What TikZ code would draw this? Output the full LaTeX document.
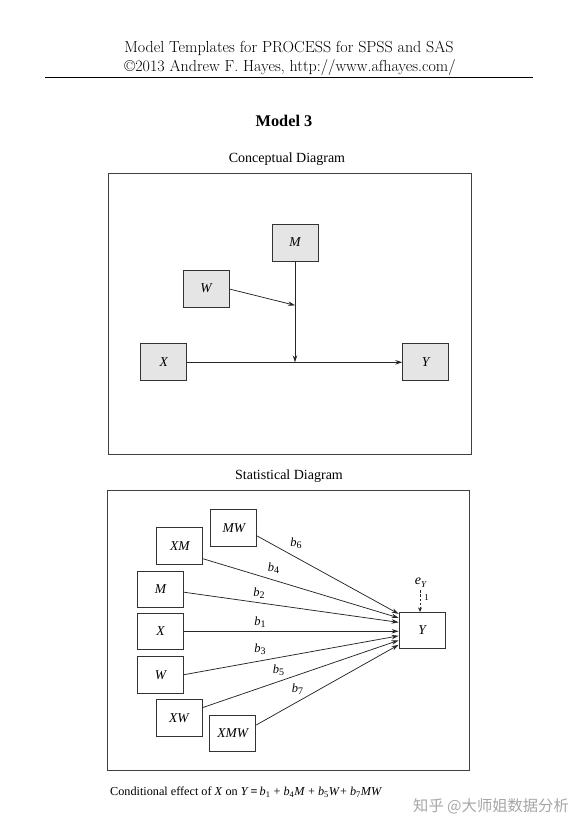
\documentclass[tikz,border=0pt]{standalone}
\usepackage{fontspec}
\usetikzlibrary{arrows.meta,calc}
\newfontfamily\tms{Liberation Serif}
\newfontfamily\cjk{Noto Sans CJK SC}
\begin{document}
\begin{tikzpicture}[x=1pt,y=-1pt,
  cbox/.style={draw=black!80,line width=0.8pt,fill=black!10,minimum width=46pt,minimum height=37pt,inner sep=0pt,font=\tms\itshape\fontsize{13.5}{15}\selectfont},
  sbox/.style={draw=black!80,line width=0.8pt,fill=white,minimum width=46pt,minimum height=36.5pt,inner sep=0pt,font=\tms\itshape\fontsize{13.5}{15}\selectfont},
  frame/.style={draw=black!75,line width=0.8pt},
  arr/.style={draw=black!85,line width=0.75pt,-{Stealth[length=7pt,width=4.5pt]}},
  blab/.style={font=\tms\fontsize{12.5}{14}\selectfont,inner sep=0pt},
  ttl/.style={font=\tms\fontsize{14}{16}\selectfont,inner sep=0pt}]
\useasboundingbox (0,0) rectangle (575,832);
% header
\node[font=\fontsize{16}{18}\selectfont,inner sep=0pt] (h1) at (289,48) {Model Templates for PROCESS for SPSS and SAS};
\node[font=\fontsize{16}{18}\selectfont,inner sep=0pt] (h2) at (290,68) {\textcopyright 2013 Andrew F. Hayes, http://www.afhayes.com/};
\coordinate (r1) at (45,77);
\coordinate (r2) at (533,77);
\draw[line width=0.8pt] (r1) -- (r2);
\node[font=\tms\bfseries\fontsize{16.3}{18}\selectfont,inner sep=0pt] (title) at (284,121) {Model 3};
% conceptual
\node[ttl] (ct) at (287,159) {Conceptual Diagram};
\draw[frame] (108,173) rectangle (471,454);
\node[cbox] (cM) at (295,242.5) {M};
\node[cbox] (cW) at (206,288.5) {W};
\node[cbox] (cX) at (163.7,362.3) {X};
\node[cbox] (cY) at (425.7,362.3) {Y};
\coordinate (cJ) at (cM.south |- cX.east);
\coordinate (cK) at ($(cM.south)!0.435!(cJ)$);
\draw[arr] (cX.east) -- (cY.west);
\draw[arr] (cM.south) -- (cJ);
\draw[arr] (cW.east) ++(0,0.5) -- (cK);
% statistical
\node[ttl] (st) at (289,476) {Statistical Diagram};
\draw[frame] (107.3,490) rectangle (469.3,770.7);
\node[sbox] (sMW) at (233.8,528) {MW};
\node[sbox] (sXM) at (179.8,545.8) {XM};
\node[sbox] (sM) at (160.5,589.2) {M};
\node[sbox] (sX) at (160.5,631.3) {X};
\node[sbox] (sW) at (160.5,674.7) {W};
\node[sbox] (sXW) at (178.9,717.7) {XW};
\node[sbox] (sXMW) at (232.8,733.5) {XMW};
\node[sbox] (sY) at (422,630.5) {Y};
\draw[arr] (sMW.east) ++(0,8) -- ($(sY.north west)+(0,2)$);
\draw[arr] (sXM.east) ++(0,13) -- ($(sY.north west)+(0,6)$);
\draw[arr] (sM.east) ++(0,3) -- ($(sY.north west)+(0,10.5)$);
\draw[arr] (sX.east) -- (sX.east -| sY.west);
\draw[arr] (sW.east) -- ($(sY.north west)+(0,24)$);
\draw[arr] (sXW.east) ++(0,-10) -- ($(sY.north west)+(0,28.5)$);
\draw[arr] (sXMW.east) ++(0,-8.5) -- ($(sY.north west)+(0,33)$);
\newcommand\bsub[1]{\textit{b}\raisebox{-0.35ex}{\fontsize{10}{11}\selectfont #1}}
\node[blab] (b6) at (296,543) {\bsub{6}};
\node[blab] (b4) at (273.5,568.5) {\bsub{4}};
\node[blab] (b2) at (259,593) {\bsub{2}};
\node[blab] (b1) at (260,622.5) {\bsub{1}};
\node[blab] (b3) at (260,649) {\bsub{3}};
\node[blab] (b5) at (278.5,670) {\bsub{5}};
\node[blab] (b7) at (297.5,689.5) {\bsub{7}};
\node[font=\tms\fontsize{14}{16}\selectfont,inner sep=0pt] (eY) at (421,582.7) {\textit{e}\raisebox{-0.4ex}{\fontsize{9}{10}\selectfont\textit{Y}}};
\coordinate (eYt) at (420,590);
\draw[draw=black!85,line width=0.9pt,dashed,dash pattern=on 2.5pt off 1.8pt,-{Stealth[length=4.5pt,width=4pt]}] (eYt) -- (eYt |- sY.north);
\node[font=\tms\fontsize{9}{10}\selectfont,inner sep=0pt] (one) at (426.5,598) {1};
% footer
\node[anchor=west,font=\tms\fontsize{12.2}{14}\selectfont,inner sep=0pt] (foot) at (110,792) {Conditional effect of \textit{X} on \textit{Y}\,\textbf{=}\,\textit{b}\textsubscript{1} + \textit{b}\textsubscript{4}\textit{M} + \textit{b}\textsubscript{5}\textit{W}+ \textit{b}\textsubscript{7}\textit{MW}};
\node[anchor=west,font=\cjk\fontsize{15.3}{17}\selectfont,text=black!35,inner sep=0pt] (wm) at (413,806) {知乎 @大师姐数据分析};
\end{tikzpicture}
\end{document}
